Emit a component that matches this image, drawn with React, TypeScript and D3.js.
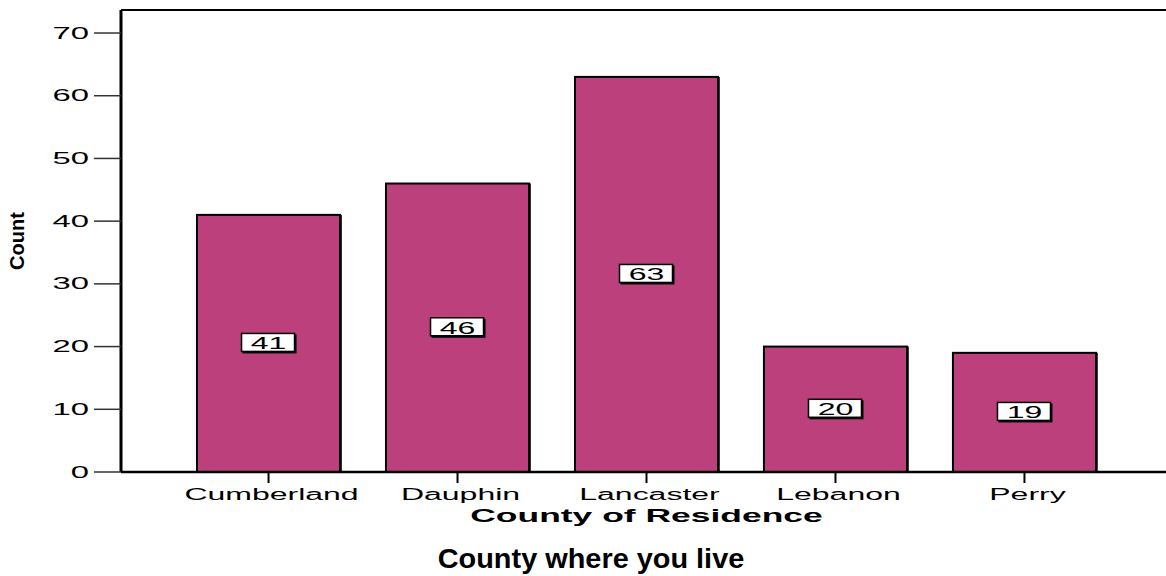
import * as d3 from "d3";

const counties = ["Cumberland", "Dauphin", "Lancaster", "Lebanon", "Perry"];
const counts = [41, 46, 63, 20, 19];
const yTicks = [0, 10, 20, 30, 40, 50, 60, 70];

const W = 1166;
const H = 576;
const FONT = "'Liberation Sans', Arial, Helvetica, sans-serif";
const NARROW = "'Liberation Sans Narrow', 'Arial Narrow', 'Liberation Sans', sans-serif";
const BAR_FILL = "#bb407c";

export default function App() {
  const x = d3
    .scaleBand<string>()
    .domain(counties)
    .range([174, 1119])
    .paddingInner(0.243)
    .paddingOuter(0.1217);

  const y = d3.scaleLinear().domain([0, 73.67]).range([472, 10]);

  const axisX = 121;
  const baseY = y(0);

  return (
    <svg
      width={W}
      height={H}
      style={{ position: "absolute", left: 0, top: 0, display: "block", background: "#fff" }}
      fontFamily={FONT}
    >
      {/* top frame line */}
      <line x1={axisX} x2={W} y1={y.range()[1]} y2={y.range()[1]} stroke="#000" strokeWidth={2} />

      {/* bars */}
      {counties.map((c, i) => {
        const x0 = x(c)!;
        const bw = x.bandwidth();
        const top = y(counts[i]);
        return (
          <g key={c}>
            <rect x={x0} y={top} width={bw} height={baseY - top} fill={BAR_FILL} stroke="#000" strokeWidth={2} />
            <line x1={x0 + bw + 1} x2={x0 + bw + 1} y1={top} y2={baseY} stroke="#000" strokeWidth={1.5} />
          </g>
        );
      })}

      {/* value labels */}
      {counties.map((c, i) => {
        const cx = x(c)! + x.bandwidth() / 2;
        const cy = y(counts[i] / 2);
        return (
          <g key={"v" + c}>
            <rect x={cx - 26} y={cy - 9} width={54} height={19} fill="#000" />
            <rect x={cx - 27} y={cy - 10} width={53} height={18} fill="#fff" stroke="#000" strokeWidth={1.5} />
            <text
              transform={`translate(${cx},${cy + 6}) scale(2,1)`}
              textAnchor="middle"
              fontSize={16}
              fill="#000"
            >
              {counts[i]}
            </text>
          </g>
        );
      })}

      {/* y axis */}
      <line x1={axisX} x2={axisX} y1={y.range()[1]} y2={baseY} stroke="#000" strokeWidth={3} />
      {yTicks.map((t) => (
        <g key={"t" + t}>
          <line x1={94} x2={axisX} y1={y(t)} y2={y(t)} stroke="#333" strokeWidth={1.5} />
          <text transform={`translate(89,${y(t) + 5.5}) scale(2.05,1)`} textAnchor="end" fontSize={16} fill="#000">
            {t}
          </text>
        </g>
      ))}

      {/* x axis */}
      <line x1={axisX} x2={W} y1={baseY} y2={baseY} stroke="#000" strokeWidth={2.5} />
      {counties.map((c) => {
        const cx = x(c)! + x.bandwidth() / 2;
        return (
          <g key={"x" + c}>
            <line x1={cx} x2={cx} y1={baseY} y2={baseY + 11} stroke="#000" strokeWidth={2} />
            <text transform={`translate(${cx + 3},500) scale(2,1)`} textAnchor="middle" fontSize={16} fill="#000">
              {c}
            </text>
          </g>
        );
      })}

      {/* axis titles */}
      <text
        transform={`translate(${(x.range()[0] + x.range()[1]) / 2},522) scale(1.97,1)`}
        textAnchor="middle"
        fontSize={18}
        fontWeight="bold"
        fill="#000"
      >
        County of Residence
      </text>
      <text
        transform={`translate(24,241) rotate(-90)`}
        textAnchor="middle"
        fontSize={20}
        fontWeight="bold"
        fontFamily={NARROW}
        fill="#000"
      >
        Count
      </text>

      {/* chart title */}
      <text
        transform={`translate(591,568) scale(1.07,1)`}
        textAnchor="middle"
        fontSize={27}
        fontWeight="bold"
        fill="#000"
      >
        County where you live
      </text>
    </svg>
  );
}
